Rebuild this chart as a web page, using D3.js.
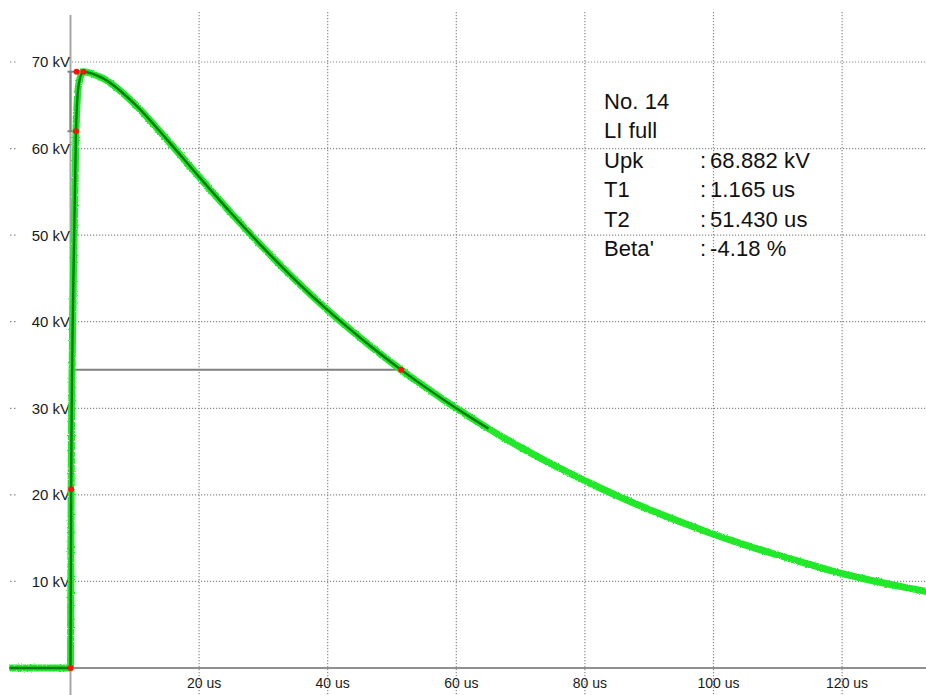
<!DOCTYPE html>
<html>
<head>
<meta charset="utf-8">
<script src="https://cdn.jsdelivr.net/npm/d3@7/dist/d3.min.js"></script>
<style>
  html, body { margin: 0; padding: 0; background: #fff; }
  svg { display: block; }
  .tick-label { font-family: "Liberation Sans", Arial, sans-serif; font-size: 14px; fill: #1a1a1a; }
  .tick-label.kv { font-size: 15px; }
  .info { font-family: "Liberation Sans", Arial, sans-serif; font-size: 22px; fill: #111; letter-spacing: 0.1px; }
</style>
</head>
<body>
<svg id="chart" width="926" height="695"></svg>
<script>
// Lightning impulse record: time in microseconds, voltage in kV
const timeUs = [-9.5, -5, 0, 0.1, 0.45, 0.85, 1.3, 2.0, 5, 10, 15, 20,
                25, 30, 35, 40, 45, 51.43, 55, 60, 65, 70, 75, 80, 85, 90, 95, 100,
                105, 110, 115, 120, 125, 130, 133.5];
const voltageKv = [0, 0, 0, 20.66, 45, 62.0, 67.5, 68.88, 68.13, 65.13, 61.03, 56.73,
                   52.53, 48.53, 44.78, 41.33, 38.18, 34.44, 32.53, 30.0, 27.65, 25.48, 23.48, 21.63, 19.9, 18.3, 16.83, 15.45,
                   14.2, 13.05, 11.95, 10.9, 10.05, 9.28, 8.78];

// End of the fitted (evaluated) curve
const fitEndUs = 65;

// Evaluation points: 0 %, 30 %, 90 %, peak, 50 % on tail
const markerT = [0, 0.1, 0.85, 0.95, 2.0, 51.43];
const markerV = [0, 20.66, 62.0, 68.88, 68.88, 34.44];

const xTicks = [20, 40, 60, 80, 100, 120];
const yTicks = [10, 20, 30, 40, 50, 60, 70];

const infoLabels = ["Upk", "T1", "T2", "Beta'"];
const infoValues = ["68.882 kV", "1.165 us", "51.430 us", "-4.18 %"];
const infoHeader = ["No. 14", "LI full"];

const W = 926, H = 695;
const svg = d3.select("#chart");

const x = d3.scaleLinear().domain([0, 120]).range([70.5, 842.1]);
const y = d3.scaleLinear().domain([0, 70]).range([668, 62]);

const peakKv = 68.88;
const halfKv = 34.44;
const t90 = 0.85;

// Noise texture for the raw trace
const defs = svg.append("defs");
const rough = defs.append("filter").attr("id", "rough")
  .attr("x", "-5%").attr("y", "-5%").attr("width", "110%").attr("height", "110%");
rough.append("feTurbulence").attr("type", "fractalNoise").attr("baseFrequency", 0.7)
  .attr("numOctaves", 2).attr("seed", 3).attr("result", "n");
rough.append("feDisplacementMap").attr("in", "SourceGraphic").attr("in2", "n")
  .attr("scale", 2.5).attr("xChannelSelector", "R").attr("yChannelSelector", "G");

svg.append("rect").attr("width", W).attr("height", H).attr("fill", "#fff");

// Grid
const grid = svg.append("g");
grid.selectAll(".hg").data(yTicks).join("line")
  .attr("x1", 72).attr("x2", W)
  .attr("y1", d => y(d)).attr("y2", d => y(d))
  .attr("stroke", "#8a8a8a").attr("stroke-width", 1.2).attr("stroke-dasharray", "1.2,1.8");
grid.selectAll(".hs").data(yTicks).join("line")
  .attr("x1", 10).attr("x2", 17)
  .attr("y1", d => y(d)).attr("y2", d => y(d))
  .attr("stroke", "#8a8a8a").attr("stroke-width", 1.2).attr("stroke-dasharray", "1.5,2.5");
grid.selectAll(".vg").data(xTicks).join("line")
  .attr("x1", d => x(d)).attr("x2", d => x(d))
  .attr("y1", 12).attr("y2", H)
  .attr("stroke", "#8a8a8a").attr("stroke-width", 1.2).attr("stroke-dasharray", "1.2,1.8");

// Axes lines
svg.append("line").attr("x1", x(0)).attr("x2", x(0)).attr("y1", 15).attr("y2", H)
  .attr("stroke", "#a8a8a8").attr("stroke-width", 2);
svg.append("line").attr("x1", x(0)).attr("x2", W).attr("y1", y(0)).attr("y2", y(0))
  .attr("stroke", "#909090").attr("stroke-width", 2);

// Axis labels
svg.selectAll(".yl").data(yTicks).join("text").attr("class", "tick-label kv")
  .attr("x", 70).attr("y", d => y(d)).attr("dy", "0.36em")
  .attr("text-anchor", "end").text(d => d + " kV");
svg.selectAll(".xl").data(xTicks).join("text").attr("class", "tick-label")
  .attr("x", d => x(d) + 5).attr("y", 688)
  .attr("text-anchor", "middle").text(d => d + " us");

// Measurement helper lines
const helper = svg.append("g").attr("stroke", "#808080").attr("stroke-width", 2);
helper.append("line").attr("x1", x(0)).attr("x2", x(0)).attr("y1", y(peakKv)).attr("y2", y(62.0));
helper.append("line").attr("x1", x(0) - 3).attr("x2", x(markerT[3])).attr("y1", y(peakKv)).attr("y2", y(peakKv));
helper.append("line").attr("x1", x(0) - 3).attr("x2", x(t90)).attr("y1", y(62.0)).attr("y2", y(62.0));
helper.append("line").attr("x1", x(0)).attr("x2", x(51.43)).attr("y1", y(halfKv)).attr("y2", y(halfKv));

// Traces
const pts = timeUs.map((t, i) => [t, voltageKv[i]]);
const line = d3.line().x(d => x(d[0])).y(d => y(d[1])).curve(d3.curveMonotoneX);

svg.append("path").attr("d", line(pts))
  .attr("fill", "none").attr("stroke", "#22e82a").attr("stroke-width", 7)
  .attr("stroke-linejoin", "round").attr("filter", "url(#rough)");

svg.append("path").attr("d", line(pts.filter(d => d[0] <= fitEndUs)))
  .attr("fill", "none").attr("stroke", "#0b7a12").attr("stroke-width", 2.4)
  .attr("stroke-linejoin", "round");

// Evaluation markers
svg.selectAll(".mk").data(markerT.map((t, i) => [t, markerV[i]])).join("circle")
  .attr("cx", d => x(d[0])).attr("cy", d => y(d[1])).attr("r", 3)
  .attr("fill", "#ff1010");

// Parameter block
const info = svg.append("g");
infoHeader.forEach((s, i) => {
  info.append("text").attr("class", "info").attr("x", 604).attr("y", 108.5 + i * 29.5).text(s);
});
infoLabels.forEach((s, i) => {
  const yy = 108.5 + (i + 2) * 29.5;
  info.append("text").attr("class", "info").attr("x", 604).attr("y", yy).text(s);
  info.append("text").attr("class", "info").attr("x", 700).attr("y", yy).text(":");
  info.append("text").attr("class", "info").attr("x", 710).attr("y", yy).text(infoValues[i]);
});
</script>
</body>
</html>
